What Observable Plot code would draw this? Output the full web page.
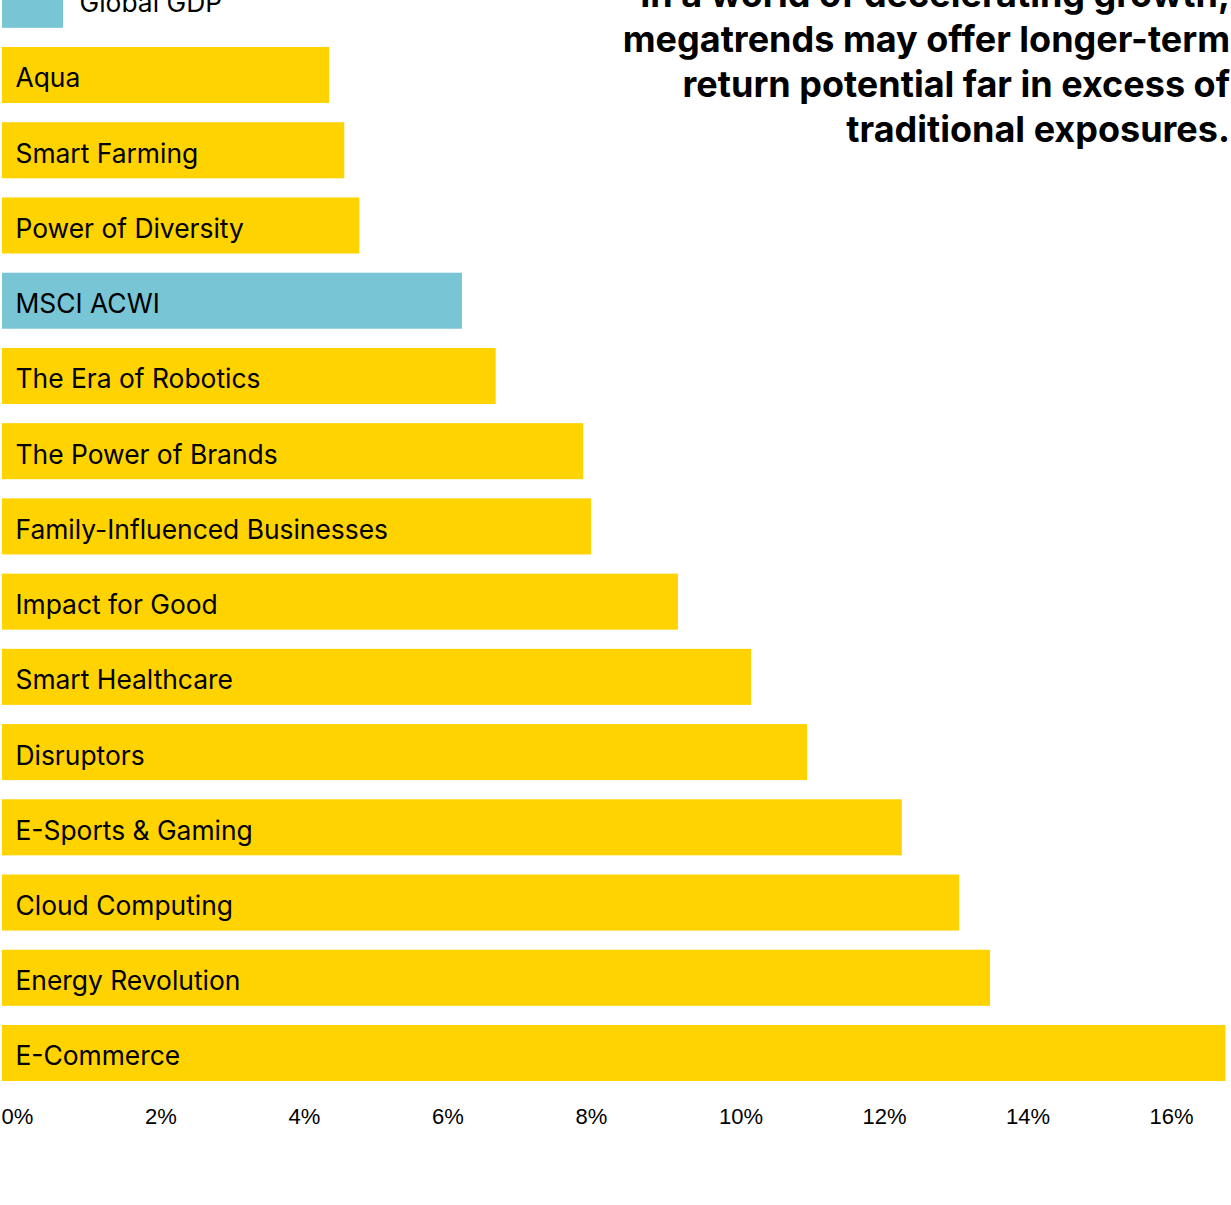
<!DOCTYPE html>
<html>
<head>
<meta charset="utf-8">
<script src="https://cdn.jsdelivr.net/npm/d3@7"></script>
<script src="https://cdn.jsdelivr.net/npm/@observablehq/plot@0.6"></script>
<style>
  html, body { margin: 0; padding: 0; background: #fff; }
  #wrap { position: relative; width: 1231px; height: 1205px; overflow: hidden; }
  #chart { position: absolute; left: 0; top: -60px; }
  #title {
    position: absolute; right: 1px; top: -28px; text-align: right;
    font-family: Inter, "Noto Sans", sans-serif; font-weight: 700;
    font-size: 36px; line-height: 45px; color: #000;
    white-space: nowrap;
  }
</style>
</head>
<body>
<div id="wrap">
  <div id="chart"></div>
  <div id="title">In a world of decelerating growth,<br>megatrends may offer longer-term<br>return potential far in excess of<br>traditional exposures.</div>
</div>
<script>
const categories = ["Global GDP", "Aqua", "Smart Farming", "Power of Diversity", "MSCI ACWI",
  "The Era of Robotics", "The Power of Brands", "Family-Influenced Businesses", "Impact for Good",
  "Smart Healthcare", "Disruptors", "E-Sports & Gaming", "Cloud Computing", "Energy Revolution", "E-Commerce"];
const values = [0.85, 4.56, 4.77, 4.98, 6.41, 6.88, 8.10, 8.21, 9.42, 10.44, 11.22, 12.54, 13.34, 13.77, 17.05];
const benchmarks = ["Global GDP", "MSCI ACWI"];
const outsideLabels = ["Global GDP"];
const tickValues = [0, 2, 4, 6, 8, 10, 12, 14, 16];

const data = categories.map((c, i) => ({
  name: c,
  value: values[i],
  group: benchmarks.includes(c) ? "benchmark" : "megatrend"
}));

const chart = Plot.plot({
  width: 1231,
  height: 1200,
  marginLeft: 2,
  marginRight: 2,
  marginTop: 12.6,
  marginBottom: 39.8,
  style: { background: "transparent" },
  x: { domain: [0, 17.1], axis: null },
  y: { domain: categories, padding: 0.255, round: false, axis: null },
  color: { domain: ["benchmark", "megatrend"], range: ["#78C5D5", "#FFD300"] },
  marks: [
    Plot.barX(data, { x: "value", y: "name", fill: "group" }),
    Plot.text(data.filter(d => !outsideLabels.includes(d.name)), {
      x: 0, y: "name", text: "name", textAnchor: "start", dx: 13, dy: 3.5,
      fontSize: 26.4, fill: "#000", fontFamily: "Inter, 'Noto Sans', sans-serif"
    }),
    Plot.text(data.filter(d => outsideLabels.includes(d.name)), {
      x: "value", y: "name", text: "name", textAnchor: "start", dx: 16, dy: 3.5,
      fontSize: 26.4, fill: "#000", fontFamily: "Inter, 'Noto Sans', sans-serif"
    }),
    Plot.axisX({
      ticks: tickValues, tickSize: 0, tickPadding: 8, textAnchor: "start",
      tickFormat: d => d + "%", fontSize: 22, dx: -1,
      fontFamily: "'Liberation Sans', Arial, sans-serif", fill: "#000", label: null
    })
  ]
});
document.getElementById("chart").appendChild(chart);
</script>
</body>
</html>
